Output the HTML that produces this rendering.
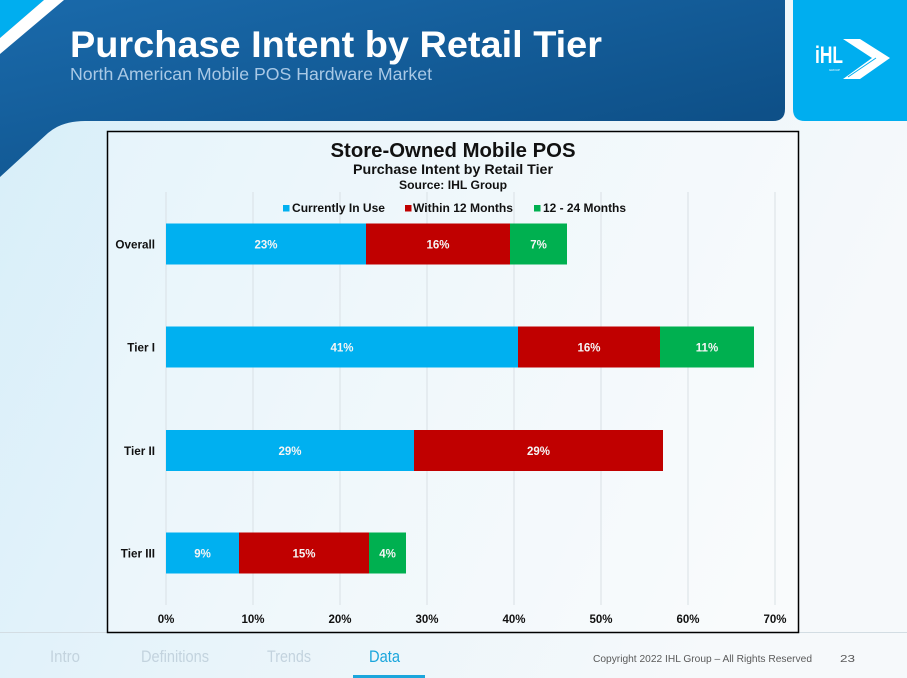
<!DOCTYPE html>
<html><head><meta charset="utf-8"><style>
html,body{margin:0;padding:0;width:907px;height:678px;overflow:hidden;background:#eaf5fb}
svg{display:block}
text{font-family:"Liberation Sans",Arial,sans-serif}
</style></head><body>
<svg width="907" height="678" viewBox="0 0 907 678" xmlns="http://www.w3.org/2000/svg">
<defs>
<linearGradient id="bg" x1="0" y1="0" x2="1" y2="0.35">
<stop offset="0" stop-color="#d6eef9"/><stop offset="0.5" stop-color="#e8f4fa"/><stop offset="1" stop-color="#f6f9fb"/>
</linearGradient>
<linearGradient id="hd" x1="0" y1="0" x2="1" y2="1">
<stop offset="0" stop-color="#1a6aab"/><stop offset="1" stop-color="#0b4a80"/>
</linearGradient>
</defs>
<rect width="907" height="678" fill="url(#bg)"/>
<!-- header -->
<path d="M0,0 H785 V109 Q785,121 773,121 H85 Q62,121 48,133 L0,177 Z" fill="url(#hd)"/>
<polygon points="0,0 44,0 0,38" fill="#00aeef"/>
<polygon points="44,0 64,0 0,54 0,38" fill="#ffffff"/>
<path d="M793,0 H907 V121 H805 Q793,121 793,109 Z" fill="#00aeef"/>
<text x="815" y="63" font-size="24" font-weight="bold" fill="#fff" textLength="28" lengthAdjust="spacingAndGlyphs">iHL</text>
<polygon points="843,39 860,39 890,58 860,79 843,79 872,58" fill="#fff"/>
<line x1="848" y1="77" x2="876" y2="58" stroke="#00aeef" stroke-width="1"/>
<text x="829" y="71" font-size="3" fill="#fff">GROUP</text>
<text x="70" y="57" font-size="37" font-weight="bold" fill="#fff" textLength="532" lengthAdjust="spacingAndGlyphs">Purchase Intent by Retail Tier</text>
<text x="70" y="80" font-size="17.5" fill="#a9c9e6" textLength="362" lengthAdjust="spacingAndGlyphs">North American Mobile POS Hardware Market</text>
<!-- footer line -->
<line x1="0" y1="632.5" x2="907" y2="632.5" stroke="#d3dde3" stroke-width="1"/>
<!-- chart box -->
<rect x="107.5" y="131.5" width="691" height="501" fill="#ffffff" fill-opacity="0.3" stroke="#000" stroke-width="1.5"/>
<g stroke="#d9e0e4" stroke-width="1">
<line x1="166" y1="192" x2="166" y2="605"/>
<line x1="253" y1="192" x2="253" y2="605"/>
<line x1="340" y1="192" x2="340" y2="605"/>
<line x1="427" y1="192" x2="427" y2="605"/>
<line x1="514" y1="192" x2="514" y2="605"/>
<line x1="601" y1="192" x2="601" y2="605"/>
<line x1="688" y1="192" x2="688" y2="605"/>
<line x1="775" y1="192" x2="775" y2="605"/>
</g>
<text x="453" y="157" font-size="20" font-weight="bold" fill="#111" text-anchor="middle" textLength="245" lengthAdjust="spacingAndGlyphs">Store-Owned Mobile POS</text>
<text x="453" y="174" font-size="14" font-weight="bold" fill="#111" text-anchor="middle" textLength="200" lengthAdjust="spacingAndGlyphs">Purchase Intent by Retail Tier</text>
<text x="453" y="189" font-size="12" font-weight="bold" fill="#111" text-anchor="middle" textLength="108" lengthAdjust="spacingAndGlyphs">Source: IHL Group</text>
<!-- legend -->
<rect x="283" y="205" width="6.5" height="6.5" fill="#00b0f0"/>
<text x="292" y="212" font-size="12" font-weight="bold" fill="#111" textLength="93" lengthAdjust="spacingAndGlyphs">Currently In Use</text>
<rect x="405" y="205" width="6.5" height="6.5" fill="#c00000"/>
<text x="413" y="212" font-size="12" font-weight="bold" fill="#111" textLength="100" lengthAdjust="spacingAndGlyphs">Within 12 Months</text>
<rect x="534" y="205" width="6.5" height="6.5" fill="#00b050"/>
<text x="543" y="212" font-size="12" font-weight="bold" fill="#111" textLength="83" lengthAdjust="spacingAndGlyphs">12 - 24 Months</text>
<!-- bars -->
<g>
<rect x="166" y="223.5" width="200" height="41" fill="#00b0f0"/>
<rect x="366" y="223.5" width="144" height="41" fill="#c00000"/>
<rect x="510" y="223.5" width="57" height="41" fill="#00b050"/>
<rect x="166" y="326.5" width="352" height="41" fill="#00b0f0"/>
<rect x="518" y="326.5" width="142" height="41" fill="#c00000"/>
<rect x="660" y="326.5" width="94" height="41" fill="#00b050"/>
<rect x="166" y="430" width="248" height="41" fill="#00b0f0"/>
<rect x="414" y="430" width="249" height="41" fill="#c00000"/>
<rect x="166" y="532.5" width="73" height="41" fill="#00b0f0"/>
<rect x="239" y="532.5" width="130" height="41" fill="#c00000"/>
<rect x="369" y="532.5" width="37" height="41" fill="#00b050"/>
</g>
<g font-size="11.5" font-weight="bold" fill="#f4f4f4" text-anchor="middle">
<text x="266" y="248.5">23%</text>
<text x="438" y="248.5">16%</text>
<text x="538.5" y="248.5">7%</text>
<text x="342" y="351.5">41%</text>
<text x="589" y="351.5">16%</text>
<text x="707" y="351.5">11%</text>
<text x="290" y="455">29%</text>
<text x="538.5" y="455">29%</text>
<text x="202.5" y="557.5">9%</text>
<text x="304" y="557.5">15%</text>
<text x="387.5" y="557.5">4%</text>
</g>
<g font-size="11.7" font-weight="bold" fill="#111" text-anchor="end">
<text x="155" y="248.5">Overall</text>
<text x="155" y="351.5">Tier I</text>
<text x="155" y="455">Tier II</text>
<text x="155" y="557.5">Tier III</text>
</g>
<g font-size="11.5" font-weight="bold" fill="#111" text-anchor="middle">
<text x="166" y="623">0%</text>
<text x="253" y="623">10%</text>
<text x="340" y="623">20%</text>
<text x="427" y="623">30%</text>
<text x="514" y="623">40%</text>
<text x="601" y="623">50%</text>
<text x="688" y="623">60%</text>
<text x="775" y="623">70%</text>
</g>
<!-- footer nav -->
<g font-size="17" fill="#c3d3de">
<text x="50" y="662" textLength="30" lengthAdjust="spacingAndGlyphs">Intro</text>
<text x="141" y="662" textLength="68" lengthAdjust="spacingAndGlyphs">Definitions</text>
<text x="267" y="662" textLength="44" lengthAdjust="spacingAndGlyphs">Trends</text>
</g>
<text x="369" y="662" font-size="17" fill="#1aa6dc" textLength="31" lengthAdjust="spacingAndGlyphs">Data</text>
<rect x="353" y="675" width="72" height="3" fill="#1aa6dc"/>
<text x="593" y="662" font-size="10.5" fill="#5a5a5a" textLength="219" lengthAdjust="spacingAndGlyphs">Copyright 2022 IHL Group – All Rights Reserved</text>
<text x="840" y="662" font-size="10.5" fill="#5a5a5a" textLength="15" lengthAdjust="spacingAndGlyphs">23</text>
</svg>
</body></html>
